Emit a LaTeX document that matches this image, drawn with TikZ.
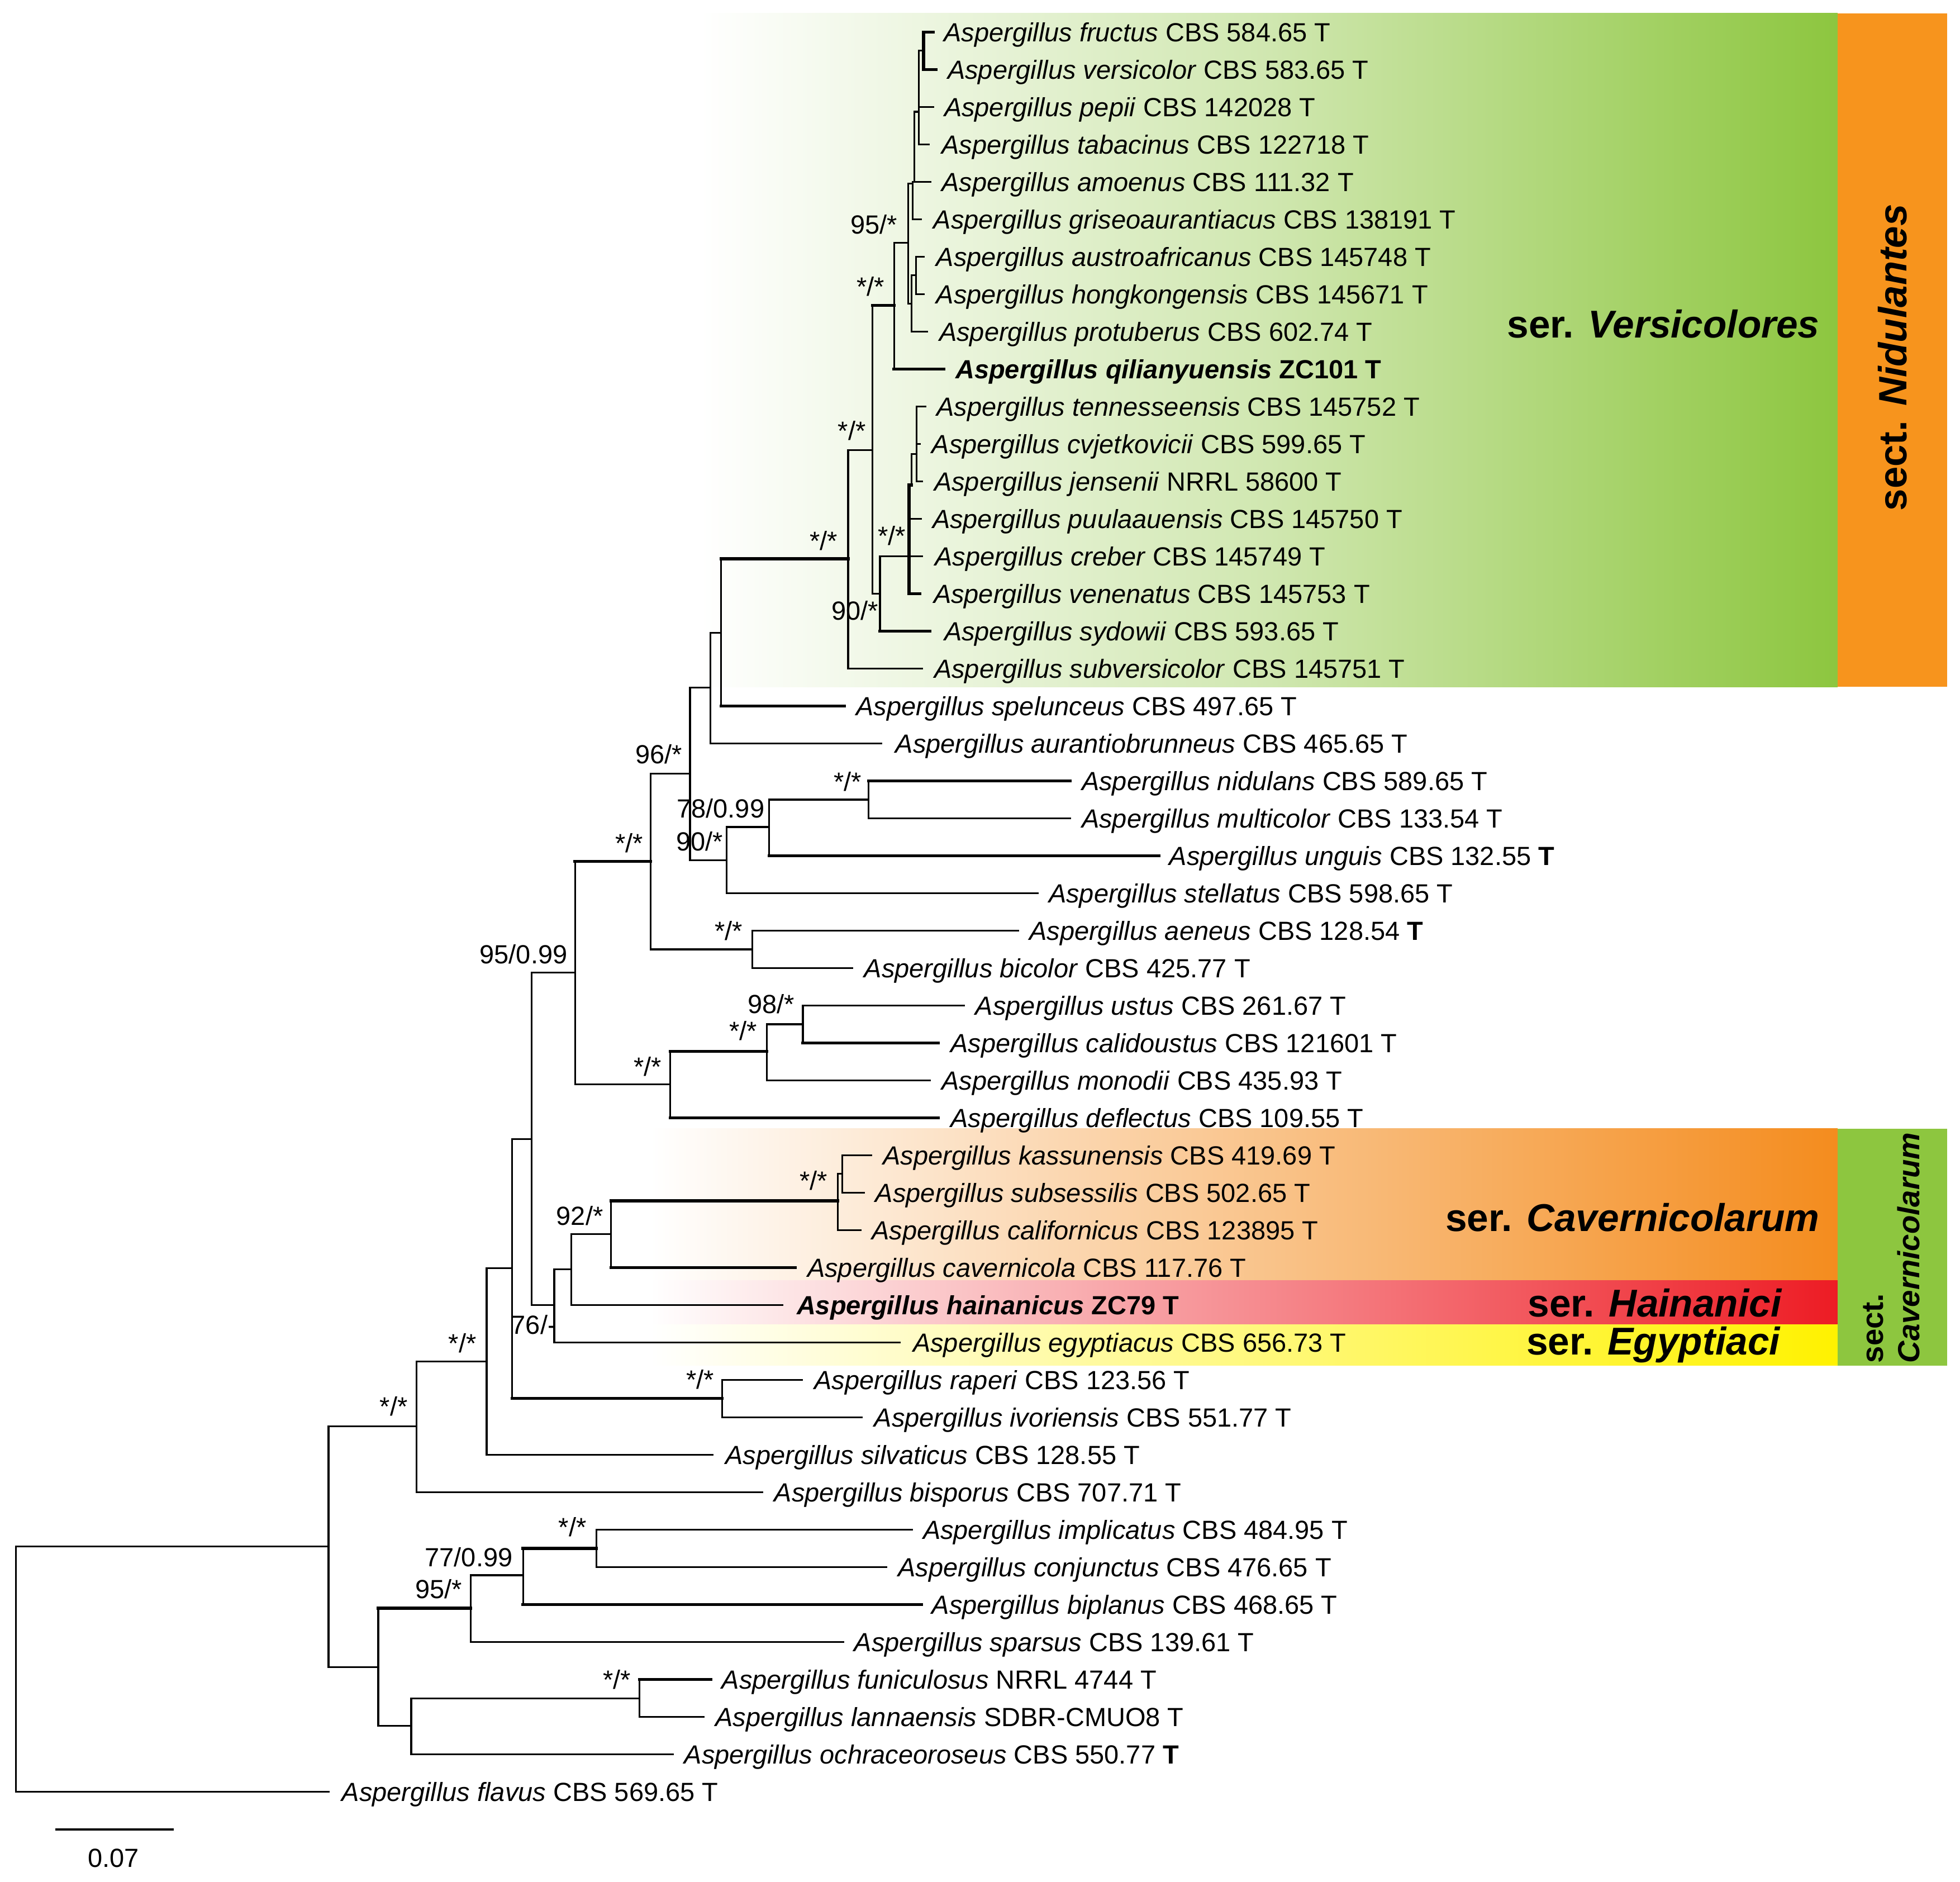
\documentclass[tikz,border=0pt]{standalone}
\usepackage{fontspec}
\setmainfont{Liberation Sans}
\usetikzlibrary{calc}
\definecolor{gr}{RGB}{141,198,63}
\definecolor{grmid}{RGB}{208,231,176}
\definecolor{orb}{RGB}{247,148,29}
\definecolor{ors}{RGB}{244,140,30}
\definecolor{rd}{RGB}{237,28,36}
\definecolor{yl}{RGB}{255,242,0}
\newcommand\ry[1]{25.6+29.95*(#1-1)}
\newcommand\lf{\fontsize{10.5pt}{12pt}\selectfont}
\newcommand\asp[1]{\textit{Aspergillus #1}}
\newcommand\lbl[3]{\node[lab] (l#1) at (#2,{\ry{#1}+7.5}) {#3};}
\newcommand\tip[2]{\coordinate (t#1) at (#2,{\ry{#1}});}
\newcommand\hb[2]{\draw[br] (#1) |- (#1 |- #2); \draw[thk] (#1 |- #2) -- (#2);}
\begin{document}
\begin{tikzpicture}[x=0.5pt,y=-0.5pt,
  br/.style={line width=0.7pt,line cap=rect},
  thk/.style={line width=1.2pt,line cap=rect},
  lab/.style={font=\lf,inner sep=0pt,anchor=base west},
  sup/.style={font=\lf,inner sep=0pt,anchor=base},
  ser/.style={font=\fontsize{15.5pt}{18pt}\selectfont\bfseries,inner sep=0pt,anchor=base east}]

\useasboundingbox (0,0) rectangle (1568,1505);

% ---------- coloured backgrounds ----------
\shade[left color=white,right color=gr,middle color=grmid] (560,10.7) rectangle (1470,549.5);
\fill[orb] (1470,10.7) rectangle (1557.5,549.5);
\shade[left color=white,right color=ors] (520,902.7) rectangle (1470,1024.4);
\shade[left color=white,right color=rd] (520,1024.4) rectangle (1470,1059.5);
\shade[left color=white,right color=yl] (520,1059.5) rectangle (1470,1092.2);
\fill[gr] (1470,902.7) rectangle (1557.8,1092.2);

% ---------- internal nodes ----------
\coordinate (nR) at (12.8,1335);
\coordinate (nA) at (262.8,1237);
\coordinate (nB) at (333.2,1141);
\coordinate (nC) at (389.3,1089);
\coordinate (nD) at (409.7,1014.5);
\coordinate (nE) at (425.3,911);
\coordinate (nF) at (460,778);
\coordinate (nG) at (520.4,689);
\coordinate (nH) at (552,619);
\coordinate (nI) at (568.2,550);
\coordinate (nJ) at (577,506);
\coordinate (nK) at (678.5,447);
\coordinate (nL) at (698,360);
\coordinate (nM) at (715.2,244.4);
\coordinate (nN) at (726.4,194.4);
\coordinate (n5) at (729.3,242.9);
\coordinate (n4) at (732.8,220.2);
\coordinate (n3b) at (730.1,146.8);
\coordinate (n3) at (731.6,145.4);
\coordinate (n2) at (734.9,89.4);
\coordinate (n1) at (738.8,40.5);
\coordinate (nP) at (704,474.85);
\coordinate (nQ) at (727.3,444.9);
\coordinate (n7) at (729.2,388);
\coordinate (n6) at (733.2,363);
\coordinate (nS) at (581.3,688.3);
\coordinate (nT) at (615.4,661.5);
\coordinate (nU) at (695,639.6);
\coordinate (nV) at (602,759.4);
\coordinate (nW) at (536.2,867.4);
\coordinate (nX) at (613.3,841);
\coordinate (nY) at (642.3,819.3);
\coordinate (z1) at (443.4,1044);
\coordinate (z2) at (457.2,1015.4);
\coordinate (z3) at (488.9,987);
\coordinate (z4) at (670.3,960.5);
\coordinate (z5) at (674,939);
\coordinate (z6) at (577.8,1118.5);
\coordinate (z7) at (302.6,1333.5);
\coordinate (z8) at (376.5,1286.4);
\coordinate (z9) at (418.4,1260);
\coordinate (z10) at (477,1238.6);
\coordinate (z11) at (329,1380.5);
\coordinate (z12) at (511.7,1358.4);

% ---------- tips ----------
\tip{1}{746.5}\tip{2}{748.7}\tip{3}{746.5}\tip{4}{743}\tip{5}{744.3}
\tip{6}{736.9}\tip{7}{739}\tip{8}{739}\tip{9}{741.9}\tip{10}{755.2}
\tip{11}{740.6}\tip{12}{736}\tip{13}{737.9}\tip{14}{737}\tip{15}{737.7}
\tip{16}{735.7}\tip{17}{743.9}\tip{18}{737.7}\tip{19}{675.6}\tip{20}{705}
\tip{21}{856}\tip{22}{856}\tip{23}{927}\tip{24}{830}\tip{25}{814.5}
\tip{26}{682}\tip{27}{771.4}\tip{28}{750.7}\tip{29}{743.8}\tip{30}{750.7}
\tip{31}{697}\tip{32}{691.4}\tip{33}{688.7}\tip{34}{636.3}\tip{35}{625.8}
\tip{36}{720}\tip{37}{641.5}\tip{38}{689.3}\tip{39}{570}\tip{40}{609.7}
\tip{41}{729.6}\tip{42}{709.2}\tip{43}{737.2}\tip{44}{674.5}\tip{45}{568.9}
\tip{46}{562.8}\tip{47}{538.3}\tip{48}{262.8}

% ---------- branches ----------
\draw[br] (nR) |- (nA) (nR) |- (t48);
\draw[br] (nA) |- (nB) (nA) |- (z7);
\draw[br] (nB) |- (nC) (nB) |- (t40);
\draw[br] (nC) |- (nD) (nC) |- (t39);
\draw[br] (nD) |- (nE);
\hb{nD}{z6}
\draw[br] (z6) |- (t37) (z6) |- (t38);
\draw[br] (nE) |- (nF) (nE) |- (z1);
\draw[br] (z1) |- (z2) (z1) |- (t36);
\draw[br] (z2) |- (z3) (z2) |- (t35);
\hb{z3}{z4}
\hb{z3}{t34}
\draw[br] (z4) |- (z5) (z4) |- (t33);
\draw[br] (z5) |- (t31) (z5) |- (t32);
\hb{nF}{nG}
\draw[br] (nF) |- (nW);
\hb{nW}{nX}
\hb{nW}{t30}
\draw[br] (nX) |- (nY) (nX) |- (t29);
\draw[br] (nY) |- (t27);
\hb{nY}{t28}
\draw[br] (nG) |- (nH) (nG) |- (nV);
\draw[br] (nV) |- (t25) (nV) |- (t26);
\draw[br] (nH) |- (nI) (nH) |- (nS);
\draw[br] (nS) |- (nT) (nS) |- (t24);
\draw[br] (nT) |- (nU);
\hb{nT}{t23}
\hb{nU}{t21}
\draw[br] (nU) |- (t22);
\draw[br] (nI) |- (nJ) (nI) |- (t20);
\hb{nJ}{nK}
\hb{nJ}{t19}
\draw[br] (nK) |- (nL) (nK) |- (t18);
\draw[br] (nL) |- (nP);
\hb{nL}{nM}
\draw[br] (nP) |- (nQ);
\hb{nP}{t17}
\draw[thk] (nQ) |- (n7) (nQ) |- (t16);
\draw[br] (nQ) |- (t14) (nQ) |- (t15);
\draw[br] (n7) |- (n6);
\draw[br] (n6) |- (t11) (n6) |- (t12) (n6) |- (t13);
\draw[br] (nM) |- (nN);
\hb{nM}{t10}
\draw[br] (nN) |- (n3b) (nN) |- (n5);
\draw[br] (n5) |- (n4) (n5) |- (t9);
\draw[br] (n4) |- (t7) (n4) |- (t8);
\draw[br] (n3b) |- (n3) (n3b) |- (t6);
\draw[br] (n3) |- (n2) (n3) |- (t5);
\draw[br] (n2) |- (n1) (n2) |- (t3) (n2) |- (t4);
\draw[thk] (n1) |- (t1) (n1) |- (t2);
\hb{z7}{z8}
\draw[br] (z7) |- (z11);
\draw[br] (z8) |- (z9) (z8) |- (t44);
\hb{z9}{z10}
\hb{z9}{t43}
\draw[br] (z10) |- (t41) (z10) |- (t42);
\draw[br] (z11) |- (z12) (z11) |- (t47);
\hb{z12}{t45}
\draw[br] (z12) |- (t46);

% ---------- leaf labels ----------
\lbl{1}{754.7}{\asp{fructus} CBS 584.65 T}
\lbl{2}{757.7}{\asp{versicolor} CBS 583.65 T}
\lbl{3}{755}{\asp{pepii} CBS 142028 T}
\lbl{4}{753}{\asp{tabacinus} CBS 122718 T}
\lbl{5}{753}{\asp{amoenus} CBS 111.32 T}
\lbl{6}{746.4}{\asp{griseoaurantiacus} CBS 138191 T}
\lbl{7}{748.6}{\asp{austroafricanus} CBS 145748 T}
\lbl{8}{748.6}{\asp{hongkongensis} CBS 145671 T}
\lbl{9}{751}{\asp{protuberus} CBS 602.74 T}
\lbl{10}{764}{\textbf{\asp{qilianyuensis} ZC101 T}}
\lbl{11}{749}{\asp{tennesseensis} CBS 145752 T}
\lbl{12}{745}{\asp{cvjetkovicii} CBS 599.65 T}
\lbl{13}{747}{\asp{jensenii} NRRL 58600 T}
\lbl{14}{745.6}{\asp{puulaauensis} CBS 145750 T}
\lbl{15}{747.5}{\asp{creber} CBS 145749 T}
\lbl{16}{746.5}{\asp{venenatus} CBS 145753 T}
\lbl{17}{755}{\asp{sydowii} CBS 593.65 T}
\lbl{18}{747}{\asp{subversicolor} CBS 145751 T}
\lbl{19}{684.6}{\asp{spelunceus} CBS 497.65 T}
\lbl{20}{716}{\asp{aurantiobrunneus} CBS 465.65 T}
\lbl{21}{865}{\asp{nidulans} CBS 589.65 T}
\lbl{22}{865}{\asp{multicolor} CBS 133.54 T}
\lbl{23}{935}{\asp{unguis} CBS 132.55 \textbf{T}}
\lbl{24}{838.6}{\asp{stellatus} CBS 598.65 T}
\lbl{25}{823}{\asp{aeneus} CBS 128.54 \textbf{T}}
\lbl{26}{691}{\asp{bicolor} CBS 425.77 T}
\lbl{27}{780}{\asp{ustus} CBS 261.67 T}
\lbl{28}{760}{\asp{calidoustus} CBS 121601 T}
\lbl{29}{753}{\asp{monodii} CBS 435.93 T}
\lbl{30}{760}{\asp{deflectus} CBS 109.55 T}
\lbl{31}{706}{\asp{kassunensis} CBS 419.69 T}
\lbl{32}{700}{\asp{subsessilis} CBS 502.65 T}
\lbl{33}{697}{\asp{californicus} CBS 123895 T}
\lbl{34}{645.5}{\asp{cavernicola} CBS 117.76 T}
\lbl{35}{637}{\textbf{\asp{hainanicus} ZC79 T}}
\lbl{36}{730}{\asp{egyptiacus} CBS 656.73 T}
\lbl{37}{651}{\asp{raperi} CBS 123.56 T}
\lbl{38}{699}{\asp{ivoriensis} CBS 551.77 T}
\lbl{39}{580}{\asp{silvaticus} CBS 128.55 T}
\lbl{40}{619}{\asp{bisporus} CBS 707.71 T}
\lbl{41}{738}{\asp{implicatus} CBS 484.95 T}
\lbl{42}{718}{\asp{conjunctus} CBS 476.65 T}
\lbl{43}{745}{\asp{biplanus} CBS 468.65 T}
\lbl{44}{683}{\asp{sparsus} CBS 139.61 T}
\lbl{45}{577}{\asp{funiculosus} NRRL 4744 T}
\lbl{46}{572}{\asp{lannaensis} SDBR-CMUO8 T}
\lbl{47}{547}{\asp{ochraceoroseus} CBS 550.77 \textbf{T}}
\lbl{48}{273}{\asp{flavus} CBS 569.65 T}

% ---------- support values ----------
\node[sup] (s1) at (699,187) {95/*};
\node[sup] (s2) at (696.5,236.5) {*/*};
\node[sup] (s3) at (681.5,352) {*/*};
\node[sup] (s4) at (713.5,436) {*/*};
\node[sup] (s5) at (684,496) {90/*};
\node[sup] (s6) at (659,440) {*/*};
\node[sup] (s7) at (527,611) {96/*};
\node[sup] (s8) at (678,632.6) {*/*};
\node[sup] (s9) at (576.5,654) {78/0.99};
\node[sup] (s10) at (559.6,680.5) {90/*};
\node[sup] (s11) at (503.4,682) {*/*};
\node[sup] (s12) at (583,752) {*/*};
\node[sup] (s13) at (418.8,770.6) {95/0.99};
\node[sup] (s14) at (616.8,810.6) {98/*};
\node[sup] (s15) at (594.4,832) {*/*};
\node[sup] (s16) at (518,860.7) {*/*};
\node[sup] (s17) at (651,952) {*/*};
\node[sup] (s18) at (463.8,980) {92/*};
\node[sup] (s19) at (427,1067) {76/-};
\node[sup] (s20) at (560,1111) {*/*};
\node[sup] (s21) at (370,1082) {*/*};
\node[sup] (s22) at (315,1132.5) {*/*};
\node[sup] (s23) at (458,1229) {*/*};
\node[sup] (s24) at (375,1253) {77/0.99};
\node[sup] (s25) at (350.8,1278.6) {95/*};
\node[sup] (s26) at (493.6,1351) {*/*};

% ---------- group labels ----------
\node[ser] (serV) at (1456,270) {ser. \textit{Versicolores}};
\node[ser] (serC) at (1456,985) {ser. \textit{Cavernicolarum}};
\node[ser] (serH) at (1426,1053.5) {ser. \textit{Hainanici}};
\node[ser] (serE) at (1425,1083.5) {ser. \textit{Egyptiaci}};
\node[font=\fontsize{15.8pt}{18pt}\selectfont\bfseries,rotate=90,inner sep=0pt] (sectN) at (1514,286) {sect. \textit{Nidulantes}};
\node[font=\fontsize{12.2pt}{14pt}\selectfont\bfseries,rotate=90,inner sep=0pt,anchor=base west] (sectC1) at (1506.3,1090.7) {sect.};
\node[font=\fontsize{12.2pt}{14pt}\selectfont\bfseries,rotate=90,inner sep=0pt,anchor=base west] (sectC2) at (1535.4,1090.7) {\textit{Cavernicolarum}};

% ---------- scale bar ----------
\coordinate (sb1) at (44.4,1463.4);
\coordinate (sb2) at (138.8,1463.4);
\draw[line width=1.1pt] (sb1) -- (sb2);
\node[sup] (sbl) at (90.8,1493.5) {0.07};
\end{tikzpicture}
\end{document}
